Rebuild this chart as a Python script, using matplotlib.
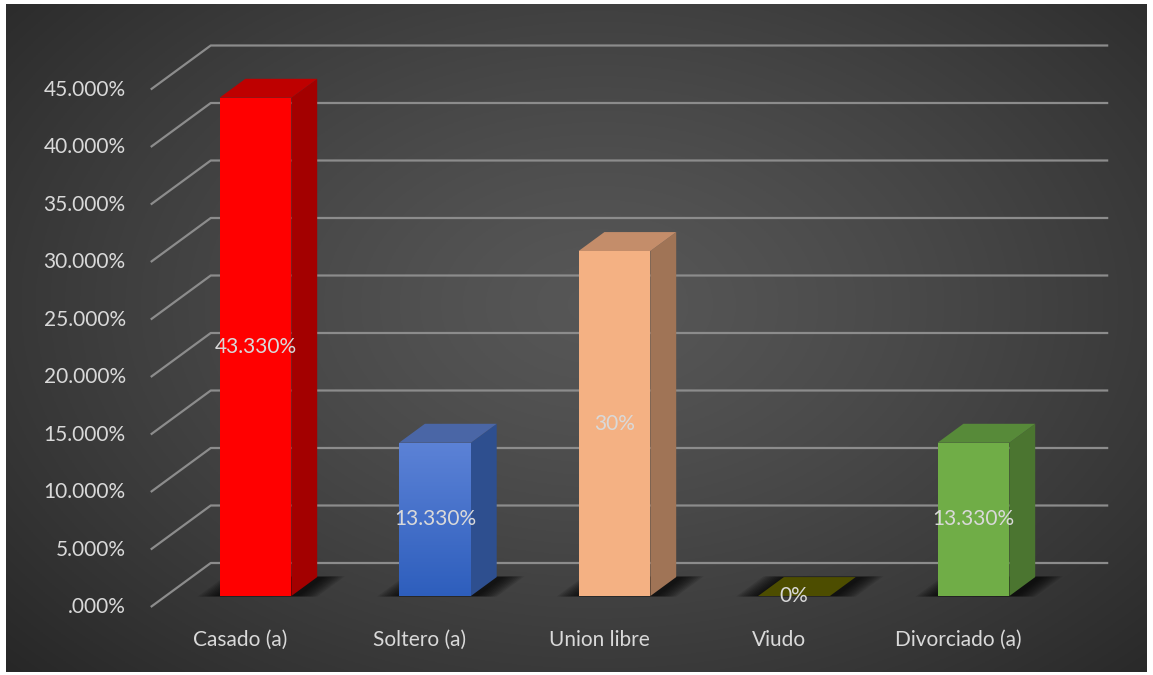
import numpy as np
import matplotlib.pyplot as plt
from matplotlib.patches import Polygon

categorias = ["Casado (a)", "Soltero (a)", "Union libre", "Viudo", "Divorciado (a)"]
porcentajes = [43.33, 13.33, 30.0, 0.0, 13.33]
etiquetas = ["43.330%", "13.330%", "30%", "0%", "13.330%"]
ticks_y = [0, 5, 10, 15, 20, 25, 30, 35, 40, 45]
ticks_txt = [".000%", "5.000%", "10.000%", "15.000%", "20.000%",
             "25.000%", "30.000%", "35.000%", "40.000%", "45.000%"]

c_frente = ["#FF0000", "#4472C4", "#F4B183", "#4D4D00", "#70AD47"]
c_lado = ["#A30000", "#2E4F8F", "#A07456", "#3A3A00", "#4B7530"]
c_arriba = ["#BE0000", "#4A66A6", "#C48D6A", "#4D4D00", "#578A39"]

# pseudo 3d: offset per unit of depth (data units)
DX = 60 / 179.5
DY = 44 / 11.5
F0 = 0.25      # depth of the bar front
BD = 0.43      # bar depth
ANCHO = 0.40
txt_col = "#D9D9D9"
fuente = "Lato"


def proj(x, v, d):
    return (x + (d - F0) * DX, v + (d - F0) * DY)


fig = plt.figure(figsize=(11.53, 6.75), dpi=100)
fig.patch.set_facecolor("white")

# background with radial gradient
bg = fig.add_axes([6 / 1153, 3 / 675, 1141 / 1153, 668 / 675])
yy, xx = np.mgrid[0:1:300j, 0:1:500j]
r = np.sqrt(((xx - 0.52) / 0.75) ** 2 + ((yy - 0.55) / 0.85) ** 2)
r = np.clip(r, 0, 1)
gris = 0.34 - 0.20 * r ** 1.3
img = np.dstack([gris, gris, gris])
bg.imshow(img, aspect="auto", extent=[0, 1, 0, 1], origin="lower")
bg.set_axis_off()

ax = fig.add_axes([0, 0, 1, 1])
ax.set_xlim((0 - 255.5) / 179.5, (1153 - 255.5) / 179.5)
ax.set_ylim((596 - 675) / 11.5, 596 / 11.5)
ax.patch.set_alpha(0)
ax.set_axis_off()

# walls gridlines
for v, t in zip(ticks_y, ticks_txt):
    p0 = proj(-0.5, v, 0)
    p1 = proj(-0.5, v, 1)
    p2 = proj(4.5, v, 1)
    ax.plot([p0[0], p1[0], p2[0]], [p0[1], p1[1], p2[1]], color="#8C8C8C",
            lw=1.6, zorder=1, solid_capstyle="butt")
    ax.annotate(t, p0, xytext=(-18, 0), textcoords="offset points",
                ha="right", va="center", color=txt_col, fontsize=15,
                family=fuente)

# soft shadows on the floor
for i, v in enumerate(porcentajes):
    x0 = i - ANCHO / 2
    x1 = i + ANCHO / 2
    for k in range(10):
        e = 0.01 + k * 0.012
        pts = [proj(x0 - e, 0, F0 - e * 0.12), proj(x1 + e + 0.03, 0, F0 - e * 0.12),
               proj(x1 + e + 0.03, 0, F0 + BD + e * 0.15), proj(x0 - e, 0, F0 + BD + e * 0.15)]
        ax.add_patch(Polygon(pts, closed=True, facecolor="black", edgecolor="none",
                             alpha=0.1, zorder=2))

# bars
for i, v in enumerate(porcentajes):
    x0 = i - ANCHO / 2
    x1 = i + ANCHO / 2
    lado = [proj(x1, 0, F0), proj(x1, 0, F0 + BD), proj(x1, v, F0 + BD), proj(x1, v, F0)]
    ax.add_patch(Polygon(lado, closed=True, facecolor=c_lado[i], edgecolor="none", zorder=3))
    tapa = [proj(x0, v, F0), proj(x1, v, F0), proj(x1, v, F0 + BD), proj(x0, v, F0 + BD)]
    ax.add_patch(Polygon(tapa, closed=True, facecolor=c_arriba[i], edgecolor="none", zorder=3))
    barra = ax.bar(i, v, width=ANCHO, bottom=0, color=c_frente[i], zorder=4)
    if i == 1 and v > 0:
        grad = np.linspace(0, 1, 100).reshape(-1, 1)
        top = np.array([0.36, 0.51, 0.84])
        bot = np.array([0.18, 0.37, 0.74])
        gimg = top * grad[..., None] + bot * (1 - grad[..., None])
        im = ax.imshow(gimg, extent=[x0, x1, 0, v], origin="lower", aspect="auto", zorder=4.5)
        im.set_clip_path(barra.patches[0])
    ax.text(i, v / 2, etiquetas[i], ha="center", va="center", color=txt_col,
            fontsize=15, family=fuente, zorder=6)

# category labels at the front edge
for i, c in enumerate(categorias):
    p = proj(i, 0, 0)
    ax.annotate(c, p, xytext=(0, -24), textcoords="offset points", ha="center",
                va="center", color=txt_col, fontsize=15, family=fuente)

ax.set_xlim((0 - 255.5) / 179.5, (1153 - 255.5) / 179.5)
ax.set_ylim((596 - 675) / 11.5, 596 / 11.5)

fig.savefig("out.png", dpi=100, facecolor="white")
